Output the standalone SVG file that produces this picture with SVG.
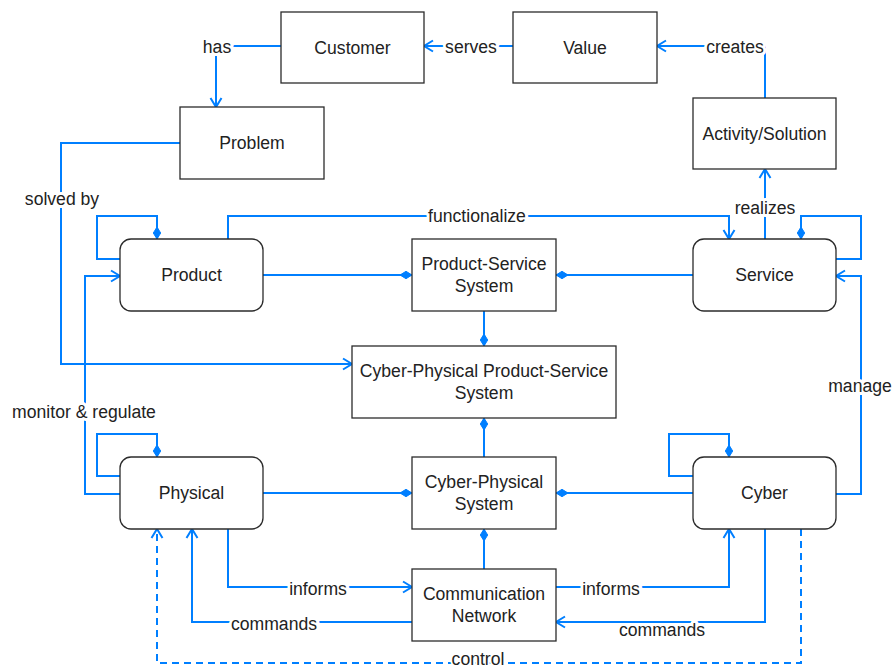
<svg xmlns="http://www.w3.org/2000/svg" width="893" height="669" viewBox="0 0 893 669">
<style>
.box{fill:#fff;stroke:#2b2b2b;stroke-width:1.3}
.t{font-family:"Liberation Sans",Arial,sans-serif;font-size:17.6px;fill:#222;text-anchor:middle}
.lbl{font-family:"Liberation Sans",Arial,sans-serif;font-size:17.6px;fill:#222;text-anchor:middle;stroke:#fff;stroke-width:6;paint-order:stroke;stroke-linejoin:round}
.c{fill:none;stroke:#007FFF;stroke-width:2}
.arr{marker-end:url(#open)}
.dia{marker-end:url(#diamond)}
.dash{stroke-dasharray:7 5}
</style>
<defs>
<marker id="open" markerUnits="userSpaceOnUse" markerWidth="14" markerHeight="14" viewBox="0 0 14 14" refX="12" refY="7" orient="auto">
<path d="M3,1.5 L12,7 L3,12.5" fill="none" stroke="#007FFF" stroke-width="2"/>
</marker>
<marker id="diamond" markerUnits="userSpaceOnUse" markerWidth="14" markerHeight="10" viewBox="0 0 14 10" refX="13" refY="5" orient="auto">
<path d="M1,5 L7,1.3 L13,5 L7,8.7 Z" fill="#007FFF" stroke="#007FFF" stroke-width="1"/>
</marker>
</defs>

<g id="connectors">
<path class="c arr" d="M281,46 H216 V107"/>
<path class="c arr" d="M513,46 H424"/>
<path class="c arr" d="M765,98 V46 H657"/>
<path class="c arr" d="M765,239 V169"/>
<path class="c arr" d="M180,143 H61 V364 H352"/>
<path class="c arr" d="M228,239 V216 H729 V239"/>
<path class="c dia" d="M120,259 H97 V216 H157 V239"/>
<path class="c dia" d="M836,259 H861 V216 H801 V239"/>
<path class="c dia" d="M263,275 H412"/>
<path class="c dia" d="M693,275 H556"/>
<path class="c dia" d="M484,311 V346"/>
<path class="c dia" d="M484,457 V418"/>
<path class="c arr" d="M120,494 H85 V276 H120"/>
<path class="c dia" d="M120,476 H97 V434 H157 V457"/>
<path class="c dia" d="M263,493 H412"/>
<path class="c dia" d="M693,493 H556"/>
<path class="c dia" d="M484,569 V529"/>
<path class="c dia" d="M693,476 H669 V434 H729 V457"/>
<path class="c arr" d="M836,494 H861 V276 H836"/>
<path class="c arr" d="M228,529 V587 H412"/>
<path class="c arr" d="M412,622 H192 V529"/>
<path class="c arr" d="M556,587 H729 V529"/>
<path class="c arr" d="M765,529 V622 H556"/>
<path class="c arr dash" d="M801,529 V663 H157 V529"/>
<text class="lbl" x="217" y="53">has</text>
<text class="lbl" x="471" y="53">serves</text>
<text class="lbl" x="735" y="53">creates</text>
<text class="lbl" x="765" y="214">realizes</text>
<text class="lbl" x="62" y="205">solved by</text>
<text class="lbl" x="477" y="222">functionalize</text>
<text class="lbl" x="84" y="418">monitor &amp; regulate</text>
<text class="lbl" x="860" y="392">manage</text>
<text class="lbl" x="318" y="595">informs</text>
<text class="lbl" x="274" y="630">commands</text>
<text class="lbl" x="611" y="595">informs</text>
<text class="lbl" x="662" y="636">commands</text>
<text class="lbl" x="478" y="665" style="stroke-width:4">control</text>
</g>

<g id="customer"><rect class="box" x="281" y="12" width="143" height="71"/><text class="t" x="352.5" y="53.5">Customer</text></g>
<g id="value"><rect class="box" x="513" y="12" width="144" height="71"/><text class="t" x="585" y="53.5">Value</text></g>
<g id="problem"><rect class="box" x="180" y="107" width="144" height="72"/><text class="t" x="252" y="149">Problem</text></g>
<g id="activity"><rect class="box" x="693" y="98" width="143" height="71"/><text class="t" x="764.5" y="139.5">Activity/Solution</text></g>
<g id="product"><rect class="box" x="120" y="239" width="143" height="72" rx="11"/><text class="t" x="191.5" y="281">Product</text></g>
<g id="pss"><rect class="box" x="412" y="239" width="144" height="72"/><text class="t" x="484" y="270">Product-Service</text><text class="t" x="484" y="292">System</text></g>
<g id="service"><rect class="box" x="693" y="239" width="143" height="72" rx="11"/><text class="t" x="764.5" y="281">Service</text></g>
<g id="cppss"><rect class="box" x="352" y="346" width="264" height="72"/><text class="t" x="484" y="377">Cyber-Physical Product-Service</text><text class="t" x="484" y="399">System</text></g>
<g id="physical"><rect class="box" x="120" y="457" width="143" height="72" rx="11"/><text class="t" x="191.5" y="499">Physical</text></g>
<g id="cps"><rect class="box" x="412" y="457" width="144" height="72"/><text class="t" x="484" y="488">Cyber-Physical</text><text class="t" x="484" y="510">System</text></g>
<g id="cyber"><rect class="box" x="693" y="457" width="143" height="72" rx="11"/><text class="t" x="764.5" y="499">Cyber</text></g>
<g id="comm"><rect class="box" x="412" y="569" width="144" height="72"/><text class="t" x="484" y="600">Communication</text><text class="t" x="484" y="622">Network</text></g>
</svg>
